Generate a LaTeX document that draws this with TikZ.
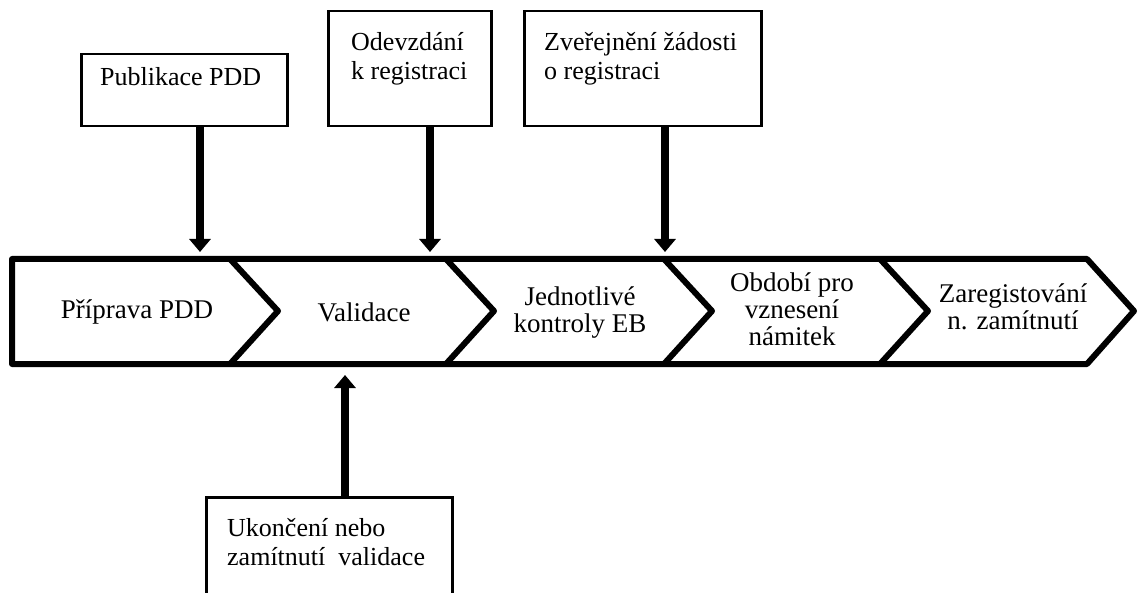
\documentclass[tikz,border=0pt]{standalone}
\usepackage{fontspec}
\setmainfont{Liberation Serif}
\usetikzlibrary{arrows.meta}
\begin{document}
\begin{tikzpicture}[x=1pt,y=-1pt,
  evbox/.style={draw, line width=2.5pt, inner sep=0pt, anchor=north west},
  lbl/.style={font=\fontsize{26}{29}\selectfont, align=left, anchor=west, inner sep=0pt},
  seg/.style={font=\fontsize{27}{27}\selectfont, align=center, inner sep=0pt},
  bigarrow/.style={line width=8pt, -{Triangle[width=21pt,length=13pt]}},
  band/.style={line width=6pt, line join=round}]
\useasboundingbox (0,0) rectangle (1139,593);
% chevron band
\draw[band] (12,259) -- (1087,259) -- (1134,311) -- (1087,364) -- (12,364) -- cycle;
\foreach \n in {230,446,664,880}{
  \draw[band] (\n,259) -- (\n+48,311) -- (\n,364);
}
\node[seg] (s1) at (137,312) {Příprava PDD};
\node[seg] (s2) at (364,312) {Validace};
\node[seg] (s3) at (580,313) {Jednotlivé\\kontroly EB};
\node[seg] (s4) at (792,309) {Období pro\\vznesení\\námitek};
\node[seg] (s5) at (1013,307) {Zaregistování\\n. zamítnutí};
% event boxes
\node[evbox, minimum width=206pt, minimum height=72pt] (b1) at (80,53) {};
\node[evbox, minimum width=163pt, minimum height=115pt] (b2) at (327,10) {};
\node[evbox, minimum width=237pt, minimum height=115pt] (b3) at (523,10) {};
\node[evbox, minimum width=246pt, minimum height=120pt] (b4) at (205,496) {};
\node[lbl] (l1) at (100,77) {Publikace PDD};
\node[lbl] (l2) at (351,59) {Odevzdání\\k registraci};
\node[lbl] (l3) at (544,59) {Zveřejnění žádosti\\o registraci};
\node[lbl] (l4) at (227,542) {Ukončení nebo\\zamítnutí\ \ validace};
% arrows
\coordinate (t1) at (200,252);
\coordinate (t2) at (430,252);
\coordinate (t3) at (665,252);
\coordinate (t4) at (345,375);
\draw[bigarrow] (b1.south -| t1) -- (t1);
\draw[bigarrow] (b2.south -| t2) -- (t2);
\draw[bigarrow] (b3.south -| t3) -- (t3);
\draw[bigarrow] (b4.north -| t4) -- (t4);
\end{tikzpicture}
\end{document}
